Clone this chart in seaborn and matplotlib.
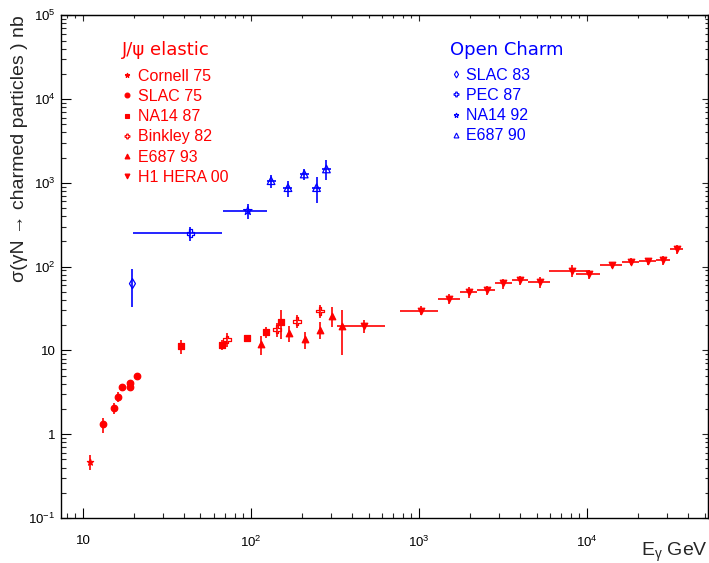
import numpy as np
import pandas as pd
import matplotlib
matplotlib.use('Agg')
import matplotlib.pyplot as plt
from matplotlib.lines import Line2D
from matplotlib.ticker import LogLocator, FuncFormatter, NullFormatter
import seaborn as sns

# ─────────────────────────────────────────
# DATA  (photon energy in GeV, cross section in nb)
# ─────────────────────────────────────────
# J/psi elastic
cornell_e  = [11.0]
cornell_s  = [0.47]
cornell_ds = [0.1]

slac75_e  = [13.2, 15.4, 16.1, 17.1, 19.0, 19.0, 20.9]
slac75_s  = [1.31, 2.03, 2.8, 3.7, 4.1, 3.7, 5.0]
slac75_ds = [0.27, 0.3, 0.35, 0.25, 0.3, 0.3, 0.4]

na14_87_e  = [38.2, 66.8, 94.8, 122.9, 150.7]
na14_87_s  = [11.2, 11.7, 14.0, 16.6, 22.1]
na14_87_ds = [2.2, 1.6, 1.5, 2.5, 8.5]

binkley_e  = [71.9, 142.7, 187.6, 256.6]
binkley_s  = [13.5, 17.9, 22.3, 29.6]
binkley_ds = [2.6, 3.3, 4.0, 5.3]

e687_93_e  = [115.2, 168.2, 210.6, 256.6, 303.4, 347.9]
e687_93_s  = [11.9, 16.2, 13.6, 17.6, 26.0, 19.6]
e687_93_ds = [3.0, 3.6, 3.2, 4.0, 7.0, 10.7]

h1_e  = [472, 1033, 1516, 1975, 2518, 3176, 3988, 5245, 8128, 10210,
         13990, 18230, 23010, 28240, 34220]
h1_lo = [324, 772, 1304, 1740, 2206, 2831, 3560, 4472, 5927, 8583,
         11925, 16030, 20440, 25670, 31190]
h1_hi = [623, 1299, 1740, 2206, 2831, 3560, 4472, 6012, 10400, 11925,
         16030, 20440, 25670, 31070, 37090]
h1_s  = [19.8, 29.9, 41.3, 49.7, 52.5, 63.1, 69.0, 65.3, 89.4, 81.6,
         105.3, 114.4, 116.6, 119.9, 160.8]
h1_ds = [3.6, 3.7, 5.7, 7.0, 7.0, 9.0, 9.0, 10.0, 15.0, 10.0,
         8.0, 11.0, 12.0, 14.0, 20.0]

# Open charm
slac83_e  = [19.7]
slac83_s  = [62.7]
slac83_ds = [30.0]

pec87_e  = [43.6]
pec87_lo = [19.8]
pec87_hi = [67.2]
pec87_s  = [250.6]
pec87_ds = [50.0]

na14_92_e  = [95.7]
na14_92_lo = [67.7]
na14_92_hi = [124.1]
na14_92_s  = [462.6]
na14_92_ds = [95.0]

e687_90_e  = [131.6, 165.9, 207.3, 245.4, 281.0]
e687_90_lo = [124.0, 156.0, 195.0, 231.0, 264.0]
e687_90_hi = [140.0, 176.0, 220.0, 260.0, 298.0]
e687_90_s  = [1062, 877, 1276, 877, 1466]
e687_90_ds = [190, 190, 195, 295, 390]

RED  = '#ff0000'
BLUE = '#0000ff'

# ─────────────────────────────────────────
# STYLE
# ─────────────────────────────────────────
sns.set_style('ticks')
plt.rcParams['font.family'] = ['Liberation Sans', 'DejaVu Sans']
plt.rcParams['mathtext.fontset'] = 'custom'
plt.rcParams['mathtext.rm'] = 'Liberation Sans'
plt.rcParams['mathtext.it'] = 'Liberation Sans:italic'

fig = plt.figure(figsize=(7.09, 5.63), dpi=100)
fig.patch.set_facecolor('white')
ax = fig.add_axes([0.086, 0.0799, 0.9119, 0.8929])
ax.set_facecolor('white')

# (name, x, xlo, xhi, y, dy, marker, colour, filled, size)
series = [
    ('Cornell 75',  cornell_e, None, None, cornell_s, cornell_ds, '*', RED, True, 22),
    ('SLAC 75',     slac75_e, None, None, slac75_s, slac75_ds, 'o', RED, True, 22),
    ('NA14 87',     na14_87_e, None, None, na14_87_s, na14_87_ds, 's', RED, True, 22),
    ('Binkley 82',  binkley_e, None, None, binkley_s, binkley_ds, 'P', RED, False, 30),
    ('E687 93',     e687_93_e, None, None, e687_93_s, e687_93_ds, '^', RED, True, 22),
    ('H1 HERA 00',  h1_e, h1_lo, h1_hi, h1_s, h1_ds, 'v', RED, True, 22),
    ('SLAC 83',     slac83_e, None, None, slac83_s, slac83_ds, 'd', BLUE, False, 26),
    ('PEC 87',      pec87_e, pec87_lo, pec87_hi, pec87_s, pec87_ds, 'P', BLUE, False, 30),
    ('NA14 92',     na14_92_e, na14_92_lo, na14_92_hi, na14_92_s, na14_92_ds, '*', BLUE, False, 40),
    ('E687 90',     e687_90_e, e687_90_lo, e687_90_hi, e687_90_s, e687_90_ds, '^', BLUE, False, 30),
]

for name, x, xlo, xhi, y, dy, mk, col, filled, size in series:
    x = np.asarray(x, float)
    if xlo is not None:
        xerr = [x - np.asarray(xlo, float), np.asarray(xhi, float) - x]
    else:
        xerr = None
    ax.errorbar(x, y, xerr=xerr, yerr=dy, fmt='none', ecolor=col,
                elinewidth=1.2, capsize=0, zorder=2)
    df = pd.DataFrame({'E': x, 'sigma': y})
    sns.scatterplot(data=df, x='E', y='sigma', ax=ax, marker=mk, s=size,
                    color=col, edgecolor=col,
                    facecolor=col if filled else 'none',
                    linewidth=0.9, zorder=3, legend=False)

# ─────────────────────────────────────────
# AXES
# ─────────────────────────────────────────
ax.set_xscale('log')
ax.set_yscale('log')
ax.set_xlim(7.4, 52000)
ax.set_ylim(0.1, 1e5)


def root_fmt(v, pos):
    e = int(round(np.log10(v)))
    if e == 0:
        return '1'
    if e == 1:
        return '10'
    return r'$\mathregular{10^{%d}}$' % e


for axis in (ax.xaxis, ax.yaxis):
    axis.set_major_locator(LogLocator(base=10, numticks=12))
    axis.set_minor_locator(LogLocator(base=10, subs=np.arange(2, 10), numticks=12))
    axis.set_major_formatter(FuncFormatter(root_fmt))
    axis.set_minor_formatter(NullFormatter())

ax.tick_params(which='major', direction='in', length=7, width=0.8,
               labelsize=9.5, colors='black')
ax.tick_params(which='minor', direction='in', length=3.5, width=0.8)
ax.tick_params(axis='x', pad=12)
ax.tick_params(axis='y', pad=4)

sec_top = ax.secondary_xaxis('top')
sec_right = ax.secondary_yaxis('right')
for sec, sax in [(sec_top, sec_top.xaxis), (sec_right, sec_right.yaxis)]:
    sec.tick_params(which='major', direction='in', length=4.5, width=0.8)
    sec.tick_params(which='minor', direction='in', length=2.5, width=0.8)
    sax.set_major_formatter(NullFormatter())
    sax.set_minor_formatter(NullFormatter())

for sp in ax.spines.values():
    sp.set_visible(True)
    sp.set_linewidth(1.0)
    sp.set_color('black')

ax.set_ylabel('σ(γN → charmed particles ) nb', fontsize=14, loc='top')
ax.yaxis.set_label_coords(-0.051, 1.0)
ax.set_xlabel(r'E$_{\mathregular{\gamma}}$ GeV', fontsize=14, loc='right')
ax.xaxis.set_label_coords(1.0, -0.045)
ax.xaxis.label.set_va('top')

# ─────────────────────────────────────────
# LEGENDS
# ─────────────────────────────────────────
def handle(mk, col, filled):
    return Line2D([], [], linestyle='none', marker=mk, markersize=3.5,
                  color=col, markeredgecolor=col, markeredgewidth=0.8,
                  markerfacecolor=col if filled else 'none')

jpsi = series[:6]
charm = series[6:]

leg_kw = dict(loc='upper left', frameon=False, fontsize=11.5,
              handlelength=0.6, handletextpad=0.35, labelspacing=0.33,
              borderpad=0, borderaxespad=0)

leg1 = ax.legend([handle(s[6], s[7], s[8]) for s in jpsi], [s[0] for s in jpsi],
                 bbox_to_anchor=(0.095, 0.894), labelcolor=RED, **leg_kw)
ax.add_artist(leg1)
leg2 = ax.legend([handle(s[6], s[7], s[8]) for s in charm], [s[0] for s in charm],
                 bbox_to_anchor=(0.603, 0.896), labelcolor=BLUE, **leg_kw)

ax.text(0.094, 0.931, 'J/ψ elastic', transform=ax.transAxes, color=RED,
        fontsize=13, family='DejaVu Sans', ha='left', va='center')
ax.text(0.602, 0.931, 'Open Charm', transform=ax.transAxes, color=BLUE,
        fontsize=13, family='DejaVu Sans', ha='left', va='center')

fig.savefig('out.png', dpi=100, facecolor='white')
